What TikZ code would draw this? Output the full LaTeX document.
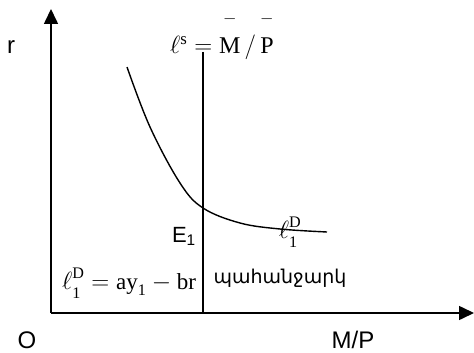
\documentclass[tikz,border=0pt]{standalone}
\usepackage{amsmath}
\usepackage{fontspec}
\setmainfont{Liberation Serif}
\newfontfamily\axisfont{Liberation Sans}
\newfontfamily\armfont[Script=Armenian]{DejaVu Sans}
\usetikzlibrary{arrows.meta, positioning}

\newcommand{\lDone}{\ell^{\text{\raisebox{.35ex}{D}}}_{\text{\raisebox{-.35ex}{1}}}}

\begin{document}
\begin{tikzpicture}[x=1pt, y=-1pt,
        axis/.style={line width=1.6pt, -{Triangle[length=15pt, width=14pt]}},
        curve/.style={line width=1.4pt},
        lbl/.style={font=\axisfont\fontsize{24}{26}\selectfont, inner sep=0pt},
        eqn/.style={font=\fontsize{23}{27}\selectfont, inner sep=0pt}]
    \useasboundingbox (0,0) rectangle (474,353);

    \coordinate (O) at (51,313);
    \coordinate (ytop) at (51,9);
    \coordinate (xend) at (474,313);
    \coordinate (stop) at (203,52);
    \coordinate (sbot) at (203,313);
    \coordinate (E) at (203,208);

    % axes
    \draw[axis] (O) -- (ytop);
    \draw[axis] (O) -- (xend);

    % supply and demand
    \draw[curve] (stop) -- (sbot);
    \draw[curve] plot[smooth, tension=0.6] coordinates {(127,67) (150,127) (180,183) (E) (240,223) (280,229) (327,232)};

    \node[lbl] (r) at (11,47) {r};
    \node[lbl, anchor=base] (o) at (27,348) {O};
    \node[lbl, anchor=base] (mp) at (353,348) {M/P};
    \node[eqn, anchor=base west, font=\fontsize{24}{28}\selectfont] (ls) at (170,54)
        {$\ell^{\text{s}} = \overset{\raisebox{0.9ex}{$\scriptstyle -$}}{\text{M}}\,/\,\overset{\raisebox{0.9ex}{$\scriptstyle -$}}{\text{P}}$};
    \node[font=\axisfont\fontsize{22}{26}\selectfont, inner sep=0pt, anchor=north east] (e1) [below left=19pt and 7pt of E] {E\textsubscript{1}};
    \node[eqn] (ld) at (290,232) {$\lDone$};
    \node[eqn] (dem) at (129,283) {$\lDone = \text{ay}_{\text{1}} - \text{br}$};
    \node[font=\armfont\fontsize{19}{24}\selectfont, inner sep=0pt] (arm) at (280,278) {պահանջարկ};
\end{tikzpicture}
\end{document}
